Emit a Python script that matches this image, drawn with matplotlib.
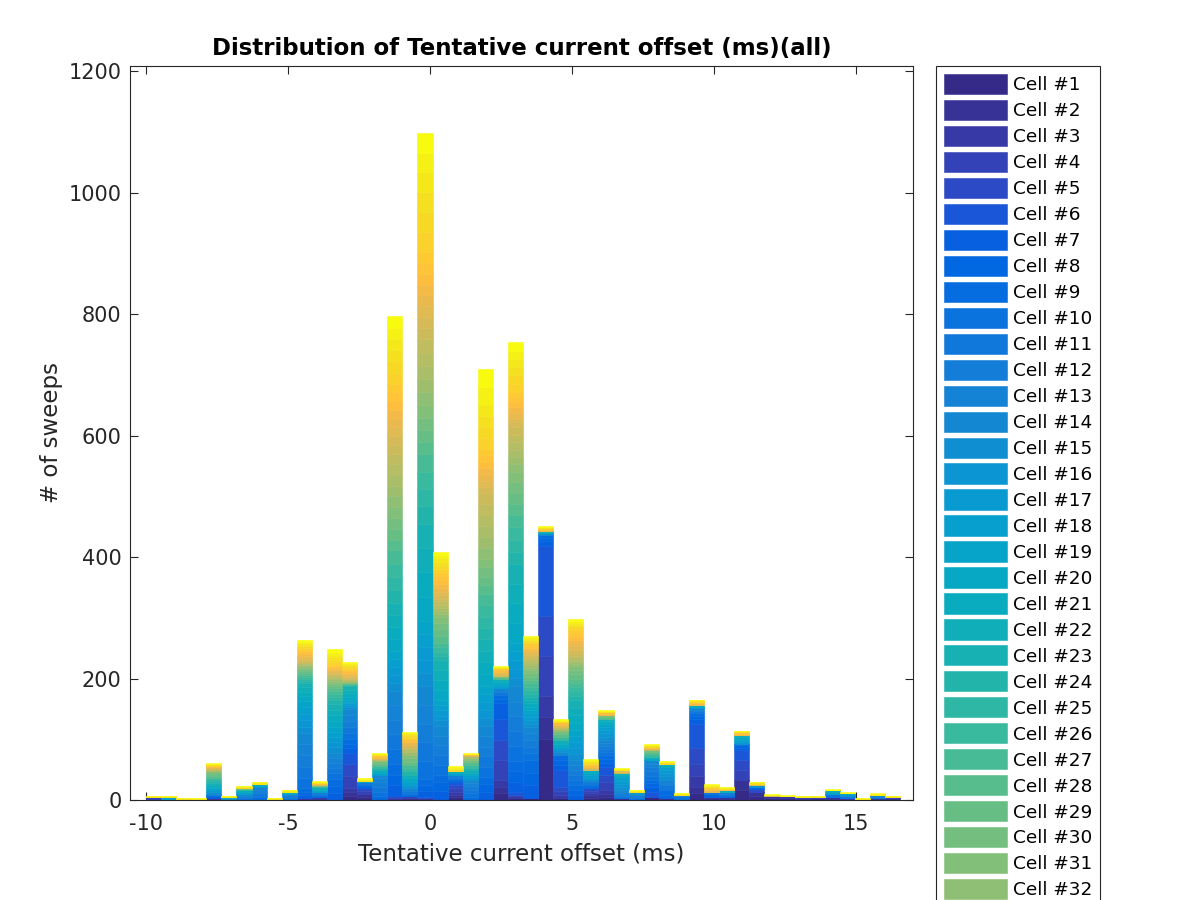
import matplotlib as mpl
import matplotlib.pyplot as plt
import numpy as np
from matplotlib.colors import LinearSegmentedColormap

# histogram bins of the tentative current offset (ms)
offset_lo = -10.0
offset_hi = 16.55
n_bins = 50
n_cells = 50

# sweeps per bin, {cell number: count}, cell 1 is the bottom of each stack
sweeps_per_bin = [
    {4: 5, 48: 1},
    {12: 2, 18: 3, 48: 1},
    {13: 2, 48: 1},
    {12: 2, 49: 1},
    {1: 2, 2: 2, 7: 2, 10: 2, 12: 2, 15: 3, 17: 3, 19: 3, 20: 3, 21: 3, 23: 3, 24: 3, 25: 3, 26: 3,
     28: 3, 29: 3, 30: 3, 32: 2, 34: 2, 37: 2, 40: 2, 42: 2, 45: 2, 47: 1, 49: 1, 50: 1},
    {14: 3, 22: 2, 48: 1},
    {2: 1, 10: 3, 12: 3, 14: 3, 18: 3, 21: 3, 26: 2, 30: 2, 46: 2, 49: 1},
    {9: 5, 11: 6, 12: 6, 13: 5, 18: 2, 22: 2, 47: 1, 48: 2},
    {11: 2, 48: 1},
    {10: 4, 12: 4, 13: 2, 19: 2, 22: 2, 48: 2},
    {1: 1, 3: 2, 7: 5, 8: 6, 9: 6, 10: 17, 11: 18, 12: 19, 13: 18, 14: 18, 15: 11, 16: 11, 17: 10,
     18: 11, 19: 10, 20: 8, 21: 7, 22: 8, 23: 7, 24: 3, 25: 4, 26: 3, 27: 3, 28: 3, 29: 3, 30: 3,
     31: 3, 32: 2, 33: 2, 34: 2, 35: 1, 36: 2, 37: 1, 38: 3, 39: 3, 40: 3, 41: 3, 42: 3, 43: 3,
     44: 2, 45: 3, 46: 2, 47: 3, 48: 3, 49: 2, 50: 3},
    {1: 2, 3: 3, 9: 4, 12: 4, 19: 4, 22: 4, 27: 2, 30: 2, 40: 2, 43: 1, 47: 1, 49: 1, 50: 1},
    {7: 11, 8: 12, 9: 12, 10: 9, 11: 8, 12: 9, 13: 8, 14: 9, 15: 9, 16: 8, 17: 9, 18: 8, 19: 9,
     20: 9, 21: 10, 22: 9, 23: 9, 24: 6, 25: 5, 26: 6, 27: 5, 28: 4, 29: 3, 30: 4, 31: 3, 32: 2,
     33: 3, 34: 2, 35: 2, 36: 3, 37: 2, 38: 2, 39: 2, 40: 2, 41: 2, 42: 3, 43: 2, 44: 2, 45: 4,
     46: 4, 47: 4, 48: 4, 49: 4, 50: 5},
    {1: 7, 2: 6, 3: 7, 4: 19, 5: 20, 6: 19, 7: 7, 8: 8, 9: 7, 10: 10, 11: 10, 12: 10, 13: 10,
     14: 10, 15: 3, 16: 3, 17: 3, 18: 3, 19: 3, 20: 5, 21: 6, 22: 5, 23: 6, 24: 1, 25: 1, 26: 1,
     27: 1, 28: 1, 29: 1, 31: 1, 32: 1, 34: 2, 35: 1, 36: 2, 37: 1, 38: 2, 39: 2, 40: 2, 41: 3,
     42: 2, 43: 2, 44: 2, 45: 2, 46: 2, 47: 2, 48: 2, 49: 2, 50: 2},
    {1: 5, 2: 5, 4: 5, 5: 5, 8: 5, 11: 4, 20: 2, 47: 2, 49: 2, 50: 1},
    {2: 2, 9: 5, 10: 7, 11: 8, 12: 8, 13: 7, 14: 5, 18: 3, 21: 4, 24: 3, 26: 4, 28: 4, 30: 4,
     33: 2, 36: 2, 39: 2, 42: 2, 45: 2, 47: 1, 48: 1, 50: 1},
    {1: 2, 3: 2, 5: 2, 7: 18, 8: 18, 9: 18, 10: 24, 11: 24, 12: 24, 13: 24, 14: 24, 15: 13, 16: 13,
     17: 13, 18: 13, 19: 13, 20: 20, 21: 20, 22: 19, 23: 20, 24: 22, 25: 21, 26: 22, 27: 22,
     28: 18, 29: 18, 30: 18, 31: 18, 32: 17, 33: 18, 34: 17, 35: 18, 36: 17, 37: 15, 38: 14,
     39: 15, 40: 14, 41: 15, 42: 14, 43: 15, 44: 14, 45: 18, 46: 19, 47: 18, 48: 19, 49: 18, 50: 19},
    {2: 3, 4: 3, 9: 4, 11: 5, 13: 5, 16: 5, 18: 5, 20: 6, 22: 6, 24: 5, 26: 5, 27: 6, 29: 5, 30: 6,
     31: 5, 33: 5, 35: 5, 36: 2, 38: 5, 40: 5, 42: 5, 45: 3, 46: 3, 47: 1, 48: 2, 49: 1, 50: 1},
    {1: 2, 2: 1, 4: 1, 6: 1, 7: 10, 8: 10, 9: 10, 10: 30, 11: 31, 12: 30, 13: 31, 14: 30, 15: 22,
     16: 21, 17: 22, 18: 21, 19: 22, 20: 40, 21: 40, 22: 40, 23: 40, 24: 29, 25: 28, 26: 29,
     27: 29, 28: 20, 29: 20, 30: 20, 31: 20, 32: 22, 33: 22, 34: 21, 35: 22, 36: 22, 37: 18,
     38: 18, 39: 18, 40: 18, 41: 18, 42: 18, 43: 18, 44: 18, 45: 33, 46: 32, 47: 33, 48: 33,
     49: 32, 50: 33},
    {2: 2, 7: 13, 8: 14, 9: 13, 10: 16, 11: 16, 12: 16, 13: 16, 14: 16, 15: 9, 16: 8, 17: 9, 18: 8,
     19: 9, 20: 16, 21: 17, 22: 16, 23: 16, 24: 7, 25: 7, 26: 8, 27: 7, 28: 11, 29: 11, 30: 10,
     31: 11, 32: 5, 33: 5, 34: 5, 35: 5, 36: 5, 37: 4, 38: 6, 39: 6, 40: 6, 41: 7, 42: 6, 43: 7,
     44: 6, 45: 6, 46: 6, 47: 5, 48: 6, 49: 5, 50: 5},
    {1: 5, 2: 4, 3: 5, 4: 5, 5: 6, 6: 5, 8: 3, 10: 4, 12: 4, 18: 3, 22: 3, 45: 2, 47: 2, 48: 2,
     49: 2, 50: 1},
    {9: 5, 10: 6, 11: 6, 12: 6, 13: 5, 14: 5, 16: 4, 18: 4, 20: 4, 22: 4, 24: 4, 26: 4, 28: 5,
     30: 4, 32: 3, 34: 3, 39: 2, 42: 1, 47: 1, 50: 1},
    {1: 1, 4: 1, 7: 12, 8: 12, 9: 12, 10: 17, 11: 17, 12: 16, 13: 17, 14: 17, 15: 13, 16: 13,
     17: 13, 18: 13, 19: 13, 20: 20, 21: 20, 22: 19, 23: 20, 24: 18, 25: 18, 26: 19, 27: 18,
     28: 15, 29: 14, 30: 15, 31: 14, 32: 18, 33: 18, 34: 18, 35: 18, 36: 18, 37: 18, 38: 10,
     39: 11, 40: 10, 41: 11, 42: 10, 43: 11, 44: 10, 45: 18, 46: 18, 47: 18, 48: 18, 49: 30, 50: 30},
    {1: 11, 2: 11, 3: 11, 4: 33, 5: 33, 6: 35, 7: 25, 8: 7, 9: 7, 11: 5, 13: 6, 18: 5, 20: 6,
     22: 5, 28: 3, 31: 2, 38: 3, 40: 3, 42: 3, 43: 3, 48: 2, 50: 1},
    {1: 3, 3: 3, 4: 3, 6: 4, 7: 17, 8: 17, 9: 17, 10: 25, 11: 24, 12: 25, 13: 24, 14: 25, 15: 14,
     16: 15, 17: 14, 18: 15, 19: 14, 20: 32, 21: 33, 22: 32, 23: 33, 24: 20, 25: 20, 26: 20,
     27: 20, 28: 18, 29: 18, 30: 18, 31: 18, 32: 12, 33: 12, 34: 12, 35: 13, 36: 12, 37: 12,
     38: 8, 39: 8, 40: 8, 41: 9, 42: 8, 43: 8, 44: 9, 45: 14, 46: 14, 47: 13, 48: 14, 49: 13, 50: 14},
    {1: 3, 7: 21, 8: 21, 9: 21, 10: 11, 11: 11, 12: 11, 13: 11, 14: 11, 15: 5, 16: 6, 17: 5,
     18: 6, 19: 5, 20: 5, 21: 6, 22: 5, 23: 6, 24: 5, 25: 6, 26: 5, 27: 6, 28: 6, 29: 5, 30: 6,
     31: 5, 32: 4, 33: 4, 34: 3, 35: 4, 36: 3, 37: 4, 38: 3, 39: 3, 40: 3, 41: 3, 42: 3, 43: 3,
     44: 4, 45: 2, 46: 2, 47: 2, 48: 2, 49: 2, 50: 2},
    {1: 100, 2: 36, 3: 36, 4: 65, 5: 66, 6: 115, 7: 8, 8: 6, 9: 4, 15: 3, 20: 2, 24: 2, 40: 2,
     44: 3, 48: 2, 50: 1},
    {1: 4, 3: 4, 4: 7, 5: 7, 6: 27, 7: 9, 8: 8, 9: 8, 14: 5, 16: 5, 18: 4, 20: 5, 22: 6, 26: 4,
     28: 5, 30: 5, 33: 4, 36: 3, 39: 4, 42: 4, 47: 2, 49: 2, 50: 1},
    {7: 8, 8: 9, 9: 8, 10: 8, 11: 8, 12: 9, 13: 8, 14: 8, 15: 10, 16: 10, 17: 9, 18: 10, 19: 10,
     20: 12, 21: 13, 22: 12, 23: 13, 24: 7, 25: 7, 26: 7, 27: 7, 28: 7, 29: 7, 30: 7, 31: 6,
     32: 4, 33: 4, 34: 3, 35: 4, 36: 3, 37: 4, 38: 5, 39: 6, 40: 5, 41: 6, 42: 5, 43: 6, 44: 5,
     45: 3, 46: 3, 47: 3, 48: 3, 49: 3, 50: 3},
    {1: 4, 2: 4, 3: 3, 4: 4, 5: 4, 9: 5, 11: 5, 13: 4, 16: 4, 18: 4, 19: 3, 21: 5, 38: 3, 40: 3,
     42: 3, 44: 2, 46: 2, 48: 2, 49: 2, 50: 1},
    {1: 5, 2: 5, 3: 6, 4: 13, 5: 13, 6: 13, 7: 6, 8: 7, 9: 6, 10: 5, 11: 5, 12: 5, 13: 5, 14: 5,
     15: 5, 16: 6, 17: 5, 18: 6, 19: 5, 21: 4, 22: 4, 28: 3, 30: 3, 40: 2, 42: 3, 48: 2, 50: 1},
    {2: 3, 10: 4, 12: 5, 14: 4, 15: 5, 16: 6, 17: 5, 18: 6, 20: 3, 22: 3, 36: 2, 40: 3, 48: 2, 50: 1},
    {9: 4, 12: 4, 15: 3, 18: 2, 47: 2, 49: 1},
    {1: 5, 6: 8, 7: 9, 8: 6, 9: 5, 10: 7, 11: 7, 12: 7, 13: 6, 14: 6, 20: 3, 22: 2, 26: 4, 28: 4,
     30: 3, 36: 2, 40: 2, 42: 2, 47: 2, 49: 1, 50: 1},
    {2: 3, 8: 6, 9: 7, 11: 8, 13: 9, 15: 6, 16: 6, 17: 5, 18: 5, 22: 5, 46: 2, 48: 1, 50: 1},
    {4: 2, 10: 4, 14: 3, 47: 1, 49: 1},
    {1: 11, 2: 11, 3: 17, 4: 20, 5: 27, 6: 40, 7: 7, 8: 5, 9: 5, 11: 4, 13: 4, 17: 3, 20: 2,
     41: 3, 43: 3, 47: 2, 50: 1},
    {1: 3, 3: 2, 8: 5, 11: 4, 40: 2, 43: 3, 45: 2, 47: 2, 49: 2, 50: 1},
    {2: 5, 9: 4, 12: 4, 22: 3, 42: 2, 47: 2, 49: 1},
    {1: 16, 2: 17, 4: 16, 5: 17, 6: 16, 7: 4, 8: 4, 9: 3, 16: 3, 18: 3, 20: 4, 22: 4, 41: 2,
     43: 3, 48: 1, 50: 1},
    {1: 7, 2: 7, 5: 4, 8: 4, 16: 3, 40: 2, 47: 2, 50: 1},
    {1: 3, 2: 3, 38: 2, 48: 1, 50: 1},
    {1: 3, 3: 3, 48: 1, 50: 1},
    {2: 3, 4: 2, 49: 1, 50: 1},
    {1: 3, 4: 2, 48: 1, 50: 1},
    {2: 5, 10: 5, 18: 3, 22: 3, 48: 1, 50: 1},
    {3: 3, 11: 4, 16: 3, 21: 1, 48: 1, 50: 1},
    {12: 2, 49: 1},
    {2: 3, 12: 3, 15: 2, 20: 1, 48: 1, 50: 1},
    {2: 3, 4: 2, 48: 1, 50: 1},
]
cell_labels = ['Cell #{}'.format(i + 1) for i in range(n_cells)]

# MATLAB parula (64 entries)
parula_rgb = [
    [0.2081, 0.1663, 0.5292], [0.2116, 0.1898, 0.5777], [0.2123, 0.2138, 0.6270],
    [0.2081, 0.2386, 0.6771], [0.1959, 0.2645, 0.7279], [0.1707, 0.2919, 0.7792],
    [0.1253, 0.3242, 0.8303], [0.0591, 0.3598, 0.8683], [0.0117, 0.3875, 0.8820],
    [0.0060, 0.4086, 0.8828], [0.0165, 0.4266, 0.8786], [0.0329, 0.4430, 0.8720],
    [0.0498, 0.4586, 0.8641], [0.0629, 0.4737, 0.8554], [0.0723, 0.4887, 0.8467],
    [0.0779, 0.5040, 0.8384], [0.0793, 0.5200, 0.8312], [0.0749, 0.5375, 0.8263],
    [0.0641, 0.5570, 0.8240], [0.0488, 0.5772, 0.8228], [0.0343, 0.5966, 0.8199],
    [0.0265, 0.6137, 0.8135], [0.0239, 0.6287, 0.8038], [0.0231, 0.6418, 0.7913],
    [0.0228, 0.6535, 0.7768], [0.0267, 0.6642, 0.7607], [0.0384, 0.6743, 0.7436],
    [0.0590, 0.6838, 0.7254], [0.0843, 0.6928, 0.7062], [0.1133, 0.7015, 0.6859],
    [0.1453, 0.7098, 0.6646], [0.1801, 0.7177, 0.6424], [0.2178, 0.7250, 0.6193],
    [0.2586, 0.7317, 0.5954], [0.3022, 0.7376, 0.5712], [0.3482, 0.7424, 0.5473],
    [0.3953, 0.7459, 0.5244], [0.4420, 0.7481, 0.5033], [0.4871, 0.7491, 0.4840],
    [0.5300, 0.7491, 0.4661], [0.5709, 0.7485, 0.4494], [0.6099, 0.7473, 0.4337],
    [0.6473, 0.7456, 0.4188], [0.6834, 0.7435, 0.4044], [0.7184, 0.7411, 0.3905],
    [0.7525, 0.7384, 0.3768], [0.7858, 0.7356, 0.3633], [0.8185, 0.7327, 0.3498],
    [0.8507, 0.7299, 0.3360], [0.8824, 0.7274, 0.3217], [0.9139, 0.7258, 0.3063],
    [0.9450, 0.7261, 0.2886], [0.9739, 0.7314, 0.2666], [0.9938, 0.7455, 0.2403],
    [0.9990, 0.7653, 0.2164], [0.9955, 0.7861, 0.1967], [0.9880, 0.8066, 0.1794],
    [0.9789, 0.8271, 0.1633], [0.9697, 0.8481, 0.1475], [0.9626, 0.8705, 0.1309],
    [0.9589, 0.8949, 0.1132], [0.9598, 0.9218, 0.0948], [0.9661, 0.9514, 0.0755],
    [0.9763, 0.9831, 0.0538],
]
parula = LinearSegmentedColormap.from_list('parula', parula_rgb)

# build cell x bin matrix
counts = np.zeros((n_cells, n_bins))
for b, d in enumerate(sweeps_per_bin):
    for c, v in d.items():
        counts[c - 1, b] = v

edges = np.linspace(offset_lo, offset_hi, n_bins + 1)
centers = (edges[:-1] + edges[1:]) / 2
width = edges[1] - edges[0]

plt.rcParams['font.family'] = 'DejaVu Sans'
plt.rcParams['axes.unicode_minus'] = False
axcol = '#262626'

fig = plt.figure(figsize=(12, 9), dpi=100)
ax = fig.add_axes([130 / 1200, 1 - 800 / 900, 783 / 1200, 734 / 900])

bottom = np.zeros(n_bins)
for i in range(n_cells):
    col = parula(i / (n_cells - 1))
    ax.bar(centers, counts[i], width=width, bottom=bottom, color=col, edgecolor=col,
           linewidth=0.4, label=cell_labels[i])
    bottom += counts[i]

ax.set_xlim(-10.56, 17.0)
ax.set_ylim(0, 1209)
ax.set_xticks([-10, -5, 0, 5, 10, 15])
ax.set_yticks([0, 200, 400, 600, 800, 1000, 1200])
ax.set_axisbelow(True)
ax.tick_params(direction='in', length=6, width=0.8, colors=axcol, labelsize=15,
               top=True, right=True)
ax.tick_params(axis='x', pad=10)
ax.tick_params(axis='y', pad=6)
for s in ax.spines.values():
    s.set_color(axcol)
    s.set_linewidth(0.8)

ax.set_xlabel('Tentative current offset (ms)', fontsize=16.5, color=axcol, labelpad=6)
ax.set_ylabel('# of sweeps', fontsize=16.5, color=axcol, labelpad=4)
ax.set_title('Distribution of Tentative current offset (ms)(all)', fontsize=16.5,
             fontweight='bold', color='black', pad=8)

leg = fig.legend(loc='upper left', bbox_to_anchor=(936 / 1200, 1 - 66 / 900),
                 bbox_transform=fig.transFigure, borderaxespad=0, fontsize=13.3,
                 handlelength=3.4, handleheight=1.3, handletextpad=0.33,
                 labelspacing=0.31, borderpad=0.42, fancybox=False, framealpha=1)
leg.get_frame().set_edgecolor(axcol)
leg.get_frame().set_linewidth(0.8)

plt.savefig('out.png', dpi=100)
